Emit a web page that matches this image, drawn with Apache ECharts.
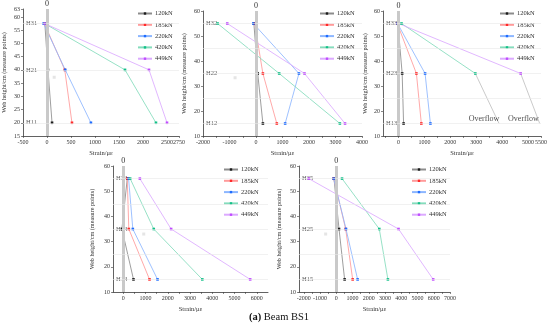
<!DOCTYPE html>
<html><head><meta charset="utf-8">
<script src="https://cdn.jsdelivr.net/npm/echarts@6/dist/echarts.min.js"></script>
<style>html,body{margin:0;padding:0;background:#fff}#c{width:550px;height:330px}</style>
</head><body><div id="c"></div>
<script>
// ---- data ----
const loads = ['120kN','185kN','220kN','420kN','449kN'];

const p1Points = ['H31','H21','H11'];
const p1Heights = [57.5, 40, 20];
const p1Strain = [[-45, 20, 105], [-55, 370, 520], [-70, 380, 915], [-50, 1625, 2270], [-50, 2125, 2500]];

const p2Points = ['H32','H22','H12'];
const p2Heights = [55, 35, 15];
const p2Strain = [[-80, 65, 260], [-50, 260, 785], [-100, 1620, 1100], [-1450, 875, 3165], [-1085, 1830, 3360]];

const p3Points = ['H33','H23','H13'];
const p3Heights = [55, 35, 15];
const p3Strain = [[-25, 140, 195], [-50, 690, 880], [-40, 1025, 1230], [115, 2965, null], [0, 4715, null]];
const p3OverflowEnd = [null, null, null, 3880, 5450];
const p3OverflowText = ['Overflow', 'Overflow'];
const p3OverflowTextX = [3300, 4820];
const p3OverflowTextY = 17;

const p4Points = ['H34','H24','H14'];
const p4Heights = [55, 35, 15];
const p4Strain = [[180, -60, 460], [180, 250, 1180], [240, 430, 1540], [310, 1370, 3550], [745, 2150, 5700]];

const p5Points = ['H35','H25','H15'];
const p5Heights = [55, 35, 15];
const p5Strain = [[-145, 165, 510], [-165, 575, 1005], [-165, 595, 1310], [350, 2645, 3175], [-1700, 3830, 5965]];

const strayDots = [[150, 37.2], [-790, 33.3], null, [920, 33], [-660, 33]];

// tick labels
const p1XLabels = [-500, 0, 500, 1000, 1500, 2000, 2500, 2750];
const p1YLabels = [15, 20, 25, 30, 35, 40, 45, 50, 55, 60, 63];
const p2XLabels = [-2000, -1000, 0, 1000, 2000, 3000, 4000];
const p3XLabels = [0, 1000, 2000, 3000, 4000, 5000, 5500];
const p4XLabels = [0, 1000, 2000, 3000, 4000, 5000, 6000, 6500];
const p5XLabels = [-2000, -1000, 0, 1000, 2000, 3000, 4000, 5000, 6000, 7000];
const yLabels10 = [10, 20, 30, 40, 50, 60];

// ---- style ----
const FONT = 'Liberation Serif';
const markerColors = ['#1a1a1a', '#ff2a2a', '#1e6cff', '#12c088', '#c04cff'];
const lineColors = ['#8c8c8c', '#ff9a9a', '#8cb6ff', '#84dcbc', '#dcaaff'];

const panels = [
  {pts:p1Points, h:p1Heights, s:p1Strain, xmin:-500, xmax:2750, ymin:15, ymax:63, xl:p1XLabels, xt:[-500,0,500,1000,1500,2000,2500,2750], yl:p1YLabels,
   grid:{left:22, top:9, width:157, height:127}, legend:{left:137, top:10}, grid2:[20,40,57.5], nameGap:16},
  {pts:p2Points, h:p2Heights, s:p2Strain, xmin:-2000, xmax:4000, ymin:10, ymax:60, xl:p2XLabels, xt:[-2000,-1500,-1000,-500,0,500,1000,1500,2000,2500,3000,3500,4000], yl:yLabels10,
   grid:{left:203, top:11, width:159, height:125}, legend:{left:319, top:10}, grid2:[15,25,35,45,55], nameGap:16},
  {pts:p3Points, h:p3Heights, s:p3Strain, xmin:-600, xmax:5500, ymin:10, ymax:60, xl:p3XLabels, xt:[-500,0,500,1000,1500,2000,2500,3000,3500,4000,4500,5000,5500], yl:yLabels10,
   grid:{left:383, top:11, width:158, height:125}, legend:{left:499, top:10}, grid2:[15,25,35,45,55], nameGap:15},
  {pts:p4Points, h:p4Heights, s:p4Strain, xmin:-460, xmax:6500, ymin:10, ymax:60, xl:p4XLabels, xt:[0,500,1000,1500,2000,2500,3000,3500,4000,4500,5000,5500,6000,6500], yl:yLabels10,
   grid:{left:113, top:166, width:155, height:126}, legend:{left:223, top:166}, grid2:[15,25,35,45,55], nameGap:18},
  {pts:p5Points, h:p5Heights, s:p5Strain, xmin:-2300, xmax:7000, ymin:10, ymax:60, xl:p5XLabels, xt:[-2000,-1500,-1000,-500,0,500,1000,1500,2000,2500,3000,3500,4000,4500,5000,5500,6000,6500,7000], yl:yLabels10,
   grid:{left:299, top:166, width:151, height:126}, legend:{left:411, top:166}, grid2:[15,25,35,45,55], nameGap:17}
];

const axisCol = '#3a3a3a';
const grids = [], xAxes = [], yAxes = [], legends = [], series = [];
const plain = (v) => String(v);

panels.forEach((p, i) => {
  grids.push(Object.assign({containLabel:false}, p.grid));
  xAxes.push({
    type:'value', gridIndex:i, min:p.xmin, max:p.xmax,
    name:'Strain/\u03bc\u03b5', nameLocation:'middle', nameGap:14,
    nameTextStyle:{fontFamily:FONT, fontSize:6.5, color:'#333'},
    axisLine:{show:true, onZero:false, lineStyle:{color:axisCol, width:0.8}},
    axisTick:{show:true, length:2, customValues:p.xt, lineStyle:{color:axisCol, width:0.6}},
    axisLabel:{customValues:p.xl, formatter:plain, hideOverlap:false, fontFamily:FONT, fontSize:6, color:'#333', margin:3},
    splitLine:{show:false}
  });
  yAxes.push({
    type:'value', gridIndex:i, min:p.ymin, max:p.ymax,
    name:'Web height/cm (measure points)', nameLocation:'middle', nameGap:p.nameGap,
    nameTextStyle:{fontFamily:FONT, fontSize:6.2, color:'#333'},
    axisLine:{show:true, onZero:false, lineStyle:{color:axisCol, width:0.8}},
    axisTick:{show:true, length:2, customValues:p.yl, lineStyle:{color:axisCol, width:0.6}},
    axisLabel:{customValues:p.yl, formatter:plain, hideOverlap:false, fontFamily:FONT, fontSize:6, color:'#333', margin:3},
    splitLine:{show:false}
  });
  legends.push({
    data:loads, left:p.legend.left, top:p.legend.top, orient:'vertical',
    itemWidth:14, itemHeight:3, itemGap:4.3, padding:0,
    textStyle:{fontFamily:FONT, fontSize:6.5, color:'#333', padding:[0,0,0,-2]},
    selectedMode:false
  });

  // helper: zero line, grid levels, point names
  series.push({
    type:'scatter', name:'labels'+i, xAxisIndex:i, yAxisIndex:i, silent:true, z:1,
    symbolSize:0,
    data:p.h.map((h, k) => ({value:[p.xmin, h], name:p.pts[k]})),
    label:{show:true, position:'right', distance:3, formatter:(d)=>d.name, fontFamily:FONT, fontSize:6.5, color:'#333'},
    markLine:{
      silent:true, symbol:['none','none'], animation:false,
      data:[
        {xAxis:0, lineStyle:{color:'#c9c9c9', width:3, type:'solid'},
         label:{show:true, position:'end', formatter:'0', fontFamily:FONT, fontSize:8, color:'#333', distance:1}}
      ].concat(p.grid2.map(v => ({yAxis:v, lineStyle:{color:'#e8e8e8', width:0.6, type:'solid'}, label:{show:false}})))
    }
  });

  if (strayDots[i]) {
    series.push({type:'scatter', name:'stray'+i, xAxisIndex:i, yAxisIndex:i, silent:true,
      symbol:'rect', symbolSize:3, itemStyle:{color:'#dedede'}, data:[strayDots[i]]});
  }

  loads.forEach((ld, l) => {
    const data = [];
    p.h.forEach((h, k) => { if (p.s[l][k] != null) data.push([p.s[l][k], h]); });
    series.push({
      type:'line', name:ld, xAxisIndex:i, yAxisIndex:i, data:data,
      symbol:'rect', symbolSize:2.6, z:3,
      itemStyle:{color:markerColors[l]},
      lineStyle:{color:lineColors[l], width:0.85}
    });
  });
});

// overflow lines in panel 3
p3OverflowEnd.forEach((xe, l) => {
  if (xe == null) return;
  series.push({
    type:'line', name:'overflow'+l, xAxisIndex:2, yAxisIndex:2, silent:true, symbol:'none', z:2,
    lineStyle:{color:'#c4c4c4', width:0.9},
    data:[[p3Strain[l][1], p3Heights[1]], [xe, p3Heights[2]]]
  });
});
series.push({
  type:'scatter', name:'overflowText', xAxisIndex:2, yAxisIndex:2, silent:true, symbolSize:0,
  data:p3OverflowTextX.map((x, k) => ({value:[x, p3OverflowTextY], name:p3OverflowText[k]})),
  label:{show:true, position:'inside', formatter:(d)=>d.name, fontFamily:FONT, fontSize:8, color:'#222'}
});

const chart = echarts.init(document.getElementById('c'), null, {renderer:'canvas'});
chart.setOption({
  animation:false,
  backgroundColor:'#fff',
  title:{
    text:'{b|(a)} Beam BS1', left:244, top:307,
    textStyle:{fontFamily:FONT, fontSize:10.5, fontWeight:'normal', color:'#111',
      rich:{b:{fontFamily:FONT, fontSize:10.5, fontWeight:'bold', color:'#111'}}}
  },
  grid:grids, xAxis:xAxes, yAxis:yAxes, legend:legends, series:series
});
</script>
</body></html>
